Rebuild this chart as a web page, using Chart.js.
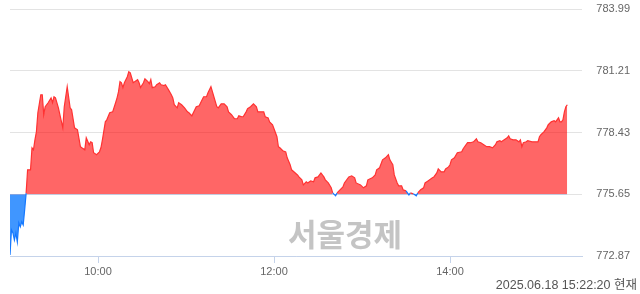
<!DOCTYPE html>
<html>
<head>
<meta charset="utf-8">
<script src="https://cdn.jsdelivr.net/npm/chart.js@4.4.1/dist/chart.umd.min.js"></script>
<style>
  html, body { margin: 0; padding: 0; background: #fff; }
  #wrap { position: relative; width: 640px; height: 294px; }
</style>
</head>
<body>
<div id="wrap"><canvas id="c"></canvas></div>
<script>
// minutes since 09:00
const minutes = [0,1,2,3,4,5,6,7,8,9,10,11,12,14,15,16,17,18,19,21,22,23,24,26,28,29,30,31,33,34,36,37,39,41,42,44,46,48,49,51,52,54,55,56,57,59,61,62,63,65,66,68,70,72,73,74,75,76,77,78,80,81,82,84,85,87,88,89,91,92,94,95,96,97,99,100,102,103,105,106,108,110,111,112,114,115,117,119,121,122,124,126,127,129,130,132,134,135,137,138,139,141,142,144,146,148,149,151,153,155,156,158,159,161,162,164,166,168,169,171,173,174,176,177,179,180,182,183,184,186,188,189,191,192,196,197,199,200,202,203,205,207,208,210,212,214,215,217,219,220,222,223,225,227,228,231,233,235,236,239,241,243,244,247,249,250,252,254,256,258,259,261,262,264,265,267,268,270,272,273,275,277,278,280,282,283,285,288,289,291,292,294,296,297,299,300,301,303,305,308,309,311,312,314,316,318,319,321,323,325,327,329,331,332,334,335,337,339,340,341,343,345,347,348,349,350,352,353,356,358,360,361,362,364,366,367,369,371,372,374,375,376,377,378,379,380];
const prices = [772.92,774.05,773.91,773.59,773.91,773.50,774.36,774.18,774.41,774.27,774.95,775.70,776.75,776.75,777.74,777.65,778.10,778.46,779.32,780.13,780.13,779.23,779.59,779.77,779.99,779.77,780.04,779.99,779.54,779.23,778.64,779.59,780.49,779.54,779.45,778.64,778.55,777.79,777.74,777.65,778.19,777.88,778.01,777.97,777.52,777.43,777.56,777.74,778.10,778.91,779.00,779.32,779.36,779.77,779.99,780.27,780.72,780.67,780.45,780.67,780.94,781.17,781.12,780.67,780.72,780.81,780.67,780.45,780.67,780.85,780.72,780.63,780.81,780.45,780.49,780.58,780.67,780.58,780.54,780.58,780.36,780.13,779.99,779.68,779.54,779.77,779.68,779.54,779.36,779.32,779.18,779.45,779.59,779.63,779.77,780.04,780.04,780.22,780.49,780.27,780.04,779.59,779.54,779.72,779.72,779.59,779.36,779.23,779.05,779.05,779.18,779.14,779.14,779.36,779.50,779.59,779.72,779.59,779.36,779.36,779.36,779.14,779.09,778.91,778.78,778.60,778.24,777.79,777.74,777.61,777.56,777.29,776.98,776.75,776.52,776.43,776.30,776.07,776.21,776.16,776.25,776.21,776.39,776.43,776.61,776.43,776.30,776.16,775.94,775.71,775.58,775.71,775.85,775.98,776.16,776.43,776.48,776.39,776.16,776.07,775.94,776.03,776.30,776.39,776.52,776.75,776.84,777.20,777.29,777.43,777.20,776.98,776.52,776.16,776.03,776.03,775.85,775.80,775.62,775.71,775.67,775.58,775.71,775.85,775.94,776.16,776.25,776.39,776.43,776.61,776.79,776.66,776.66,776.79,776.88,776.98,777.20,777.29,777.52,777.56,777.70,777.88,777.97,777.97,778.01,778.15,778.01,777.97,777.88,777.79,777.79,777.74,777.88,778.01,778.06,778.01,778.10,778.19,778.28,778.15,778.10,778.10,778.01,778.10,777.79,777.97,778.01,778.06,778.01,778.01,778.01,778.24,778.33,778.46,778.64,778.78,778.91,778.96,778.91,779.09,778.91,778.91,779.00,779.36,779.59,779.68];
const baseValue = 775.65;
const yTicks = [772.87, 775.65, 778.43, 781.21, 783.99];
const xTickMinutes = [60, 180, 300];
const xTickLabels = ['10:00', '12:00', '14:00'];
const stampText = '2025.06.18 15:22:20 현재';
const watermarkText = '서울경제';

const RED_LINE = 'rgb(255,50,50)';
const BLUE_LINE = 'rgb(20,120,255)';

const points = minutes.map((m, i) => ({ x: m, y: prices[i] }));

const overlay = {
  id: 'overlay',
  beforeDatasetsDraw(chart) {
    const ctx = chart.ctx;
    ctx.save();
    ctx.font = 'bold 31px "Noto Sans CJK KR", sans-serif';
    ctx.fillStyle = '#c4c4c4';
    ctx.textAlign = 'center';
    ctx.textBaseline = 'middle';
    ctx.fillText(watermarkText, 345, 234);
    ctx.restore();
  },
  afterDraw(chart) {
    const ctx = chart.ctx;
    ctx.save();
    ctx.font = '12.5px "Liberation Sans", "Noto Sans CJK KR", sans-serif';
    ctx.fillStyle = '#555';
    ctx.textAlign = 'right';
    ctx.textBaseline = 'middle';
    ctx.fillText(stampText, 637, 286);
    ctx.restore();
  }
};

new Chart(document.getElementById('c'), {
  type: 'line',
  data: {
    datasets: [{
      data: points,
      borderWidth: 1.2,
      borderColor: RED_LINE,
      pointRadius: 0,
      tension: 0,
      fill: { target: { value: baseValue }, above: 'rgba(255,0,0,0.6)', below: 'rgba(0,115,255,0.75)' },
      segment: {
        borderColor: c => (c.p0.parsed.y < baseValue || c.p1.parsed.y < baseValue) ? BLUE_LINE : RED_LINE
      }
    }]
  },
  options: {
    responsive: true,
    maintainAspectRatio: false,
    animation: false,
    events: [],
    layout: { padding: { left: 10, right: 10, top: 9, bottom: 0 } },
    plugins: { legend: { display: false }, tooltip: { enabled: false } },
    scales: {
      x: {
        type: 'linear',
        min: 0,
        max: 390,
        afterBuildTicks: s => { s.ticks = xTickMinutes.map(v => ({ value: v })); },
        afterFit: s => { s.height = 38; },
        ticks: {
          autoSkip: false,
          maxRotation: 0,
          padding: 2,
          color: '#666',
          font: { family: '"Liberation Sans", sans-serif', size: 11 },
          callback: v => xTickLabels[xTickMinutes.indexOf(v)] || ''
        },
        grid: { drawOnChartArea: false, drawTicks: true, tickLength: 7, color: '#c5d3ea' },
        border: { display: true, color: '#c5d3ea', width: 1 }
      },
      y: {
        position: 'right',
        min: 772.87,
        max: 783.99,
        afterBuildTicks: s => { s.ticks = yTicks.map(v => ({ value: v })); },
        afterFit: s => { s.width = 48; },
        ticks: {
          crossAlign: 'far',
          padding: 0,
          color: '#666',
          font: { family: '"Liberation Sans", sans-serif', size: 11 },
          callback: v => Number(v).toFixed(2)
        },
        grid: { color: '#e3e3e3', drawTicks: false },
        border: { display: false }
      }
    }
  },
  plugins: [overlay]
});
</script>
</body>
</html>
